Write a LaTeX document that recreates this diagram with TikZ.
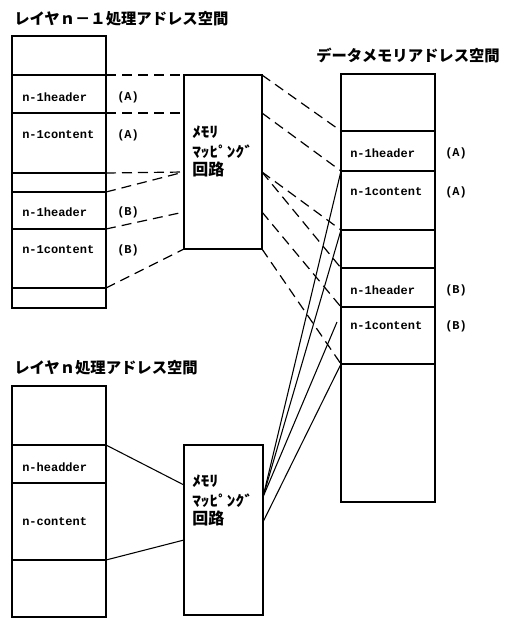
\documentclass[tikz,border=0pt]{standalone}
\usepackage{fontspec}
\newfontfamily\jp{Noto Sans CJK JP}
\newfontfamily\lab{Liberation Mono}
\newcommand{\hw}[1]{\scalebox{1.3}[1.1]{#1}}
\begin{document}
\begin{tikzpicture}[x=0.75pt,y=-0.75pt,
  cell/.style={draw,line width=1.1pt,minimum width=70.5pt,anchor=north west,inner sep=0pt,outer sep=0pt},
  circ/.style={draw,line width=1.1pt,anchor=north west,inner sep=0pt,outer sep=0pt},
  lbl/.style={anchor=west,inner sep=0pt,font=\lab\bfseries\fontsize{9}{10}\selectfont},
  ttl/.style={anchor=west,inner sep=0pt,font=\jp\bfseries\fontsize{11.5}{12}\selectfont},
  ctext/.style={anchor=north west,inner sep=0pt,align=left,font=\jp\bfseries\fontsize{10}{14.5}\selectfont},
  dsh/.style={line width=0.9pt,dash pattern=on 7.5pt off 4.5pt},
  sol/.style={line width=0.8pt}]
\useasboundingbox (0,0) rectangle (510,619);
% titles
\node[ttl] (t1) at (14,19) {レイヤｎ－１処理アドレス空間};
\node[ttl] (t2) at (316,55) {データメモリアドレス空間};
\node[ttl] (t3) at (14,368) {レイヤｎ処理アドレス空間};
% left stack (layer n-1)
\node[cell,minimum height=29.25pt] (L1) at (12,36) {};
\node[cell,minimum height=28.5pt] (L2) at (12,75) {};
\node[cell,minimum height=45pt] (L3) at (12,113) {};
\node[cell,minimum height=14.25pt] (L4) at (12,173) {};
\node[cell,minimum height=27.75pt] (L5) at (12,192) {};
\node[cell,minimum height=44.25pt] (L6) at (12,229) {};
\node[cell,minimum height=15pt] (L7) at (12,288) {};
\node[lbl] (l2t) at (22,97) {n-1header};
\node[lbl] (l2a) at (117,97) {(A)};
\node[lbl] (l3t) at (22,135) {n-1content};
\node[lbl] (l3a) at (117,135) {(A)};
\node[lbl] (l5t) at (22,212) {n-1header};
\node[lbl] (l5a) at (117,212) {(B)};
\node[lbl] (l6t) at (22,250) {n-1content};
\node[lbl] (l6a) at (117,250) {(B)};
% data memory stack
\node[cell,minimum height=42.75pt] (D1) at (341,74) {};
\node[cell,minimum height=30pt] (D2) at (341,131) {};
\node[cell,minimum height=44.25pt] (D3) at (341,171) {};
\node[cell,minimum height=28.5pt] (D4) at (341,230) {};
\node[cell,minimum height=29.25pt] (D5) at (341,268) {};
\node[cell,minimum height=42.75pt] (D6) at (341,307) {};
\node[cell,minimum height=103.5pt] (D7) at (341,364) {};
\node[lbl] (d2t) at (350,153) {n-1header};
\node[lbl] (d2a) at (445,153) {(A)};
\node[lbl] (d3t) at (350,192) {n-1content};
\node[lbl] (d3a) at (445,192) {(A)};
\node[lbl] (d5t) at (350,290) {n-1header};
\node[lbl] (d5a) at (445,290) {(B)};
\node[lbl] (d6t) at (350,326) {n-1content};
\node[lbl] (d6a) at (445,326) {(B)};
% bottom stack (layer n)
\node[cell,minimum height=44.25pt] (B1) at (12,386) {};
\node[cell,minimum height=28.5pt] (B2) at (12,445) {};
\node[cell,minimum height=57.75pt] (B3) at (12,483) {};
\node[cell,minimum height=42.75pt] (B4) at (12,560) {};
\node[lbl] (b2t) at (22,467) {n-headder};
\node[lbl] (b3t) at (22,522) {n-content};
% memory mapping circuits
\node[circ,minimum width=58.5pt,minimum height=130.5pt] (M1) at (184,75) {};
\node[ctext] (M1t) at (192,126) {\hw{ﾒﾓﾘ}\\\hw{ﾏｯﾋﾟﾝｸﾞ}\\[-1pt]{\fontsize{12}{12}\selectfont 回路}};
\node[circ,minimum width=59.25pt,minimum height=127.5pt] (M2) at (184,445) {};
\node[ctext] (M2t) at (192,475) {\hw{ﾒﾓﾘ}\\\hw{ﾏｯﾋﾟﾝｸﾞ}\\[-1pt]{\fontsize{12}{12}\selectfont 回路}};
% connection points on circuits
\coordinate (m1l2) at (184,113);
\coordinate (m1l3) at (184,172);
\coordinate (m1l4) at (184,212);
\coordinate (m1r2) at (262,113);
\coordinate (m1r3) at (262,172);
\coordinate (m1r4) at (262,212);
\coordinate (m2l1) at (184,485);
\coordinate (m2l2) at (184,540);
\coordinate (m2r1) at (263,497);
\coordinate (m2r2) at (263,522);
\coordinate (e3) at (337,322);
% dashed: layer n-1 -> circuit 1
\draw[dsh] (L2.north east) -- (M1.north west);
\draw[dsh] (L3.north east) -- (m1l2);
\draw[dsh] (L4.north east) -- (m1l3);
\draw[dsh] (L5.north east) -- (m1l3);
\draw[dsh] (L6.north east) -- (m1l4);
\draw[dsh] (L7.north east) -- (M1.south west);
% dashed: circuit 1 -> data memory
\draw[dsh] (M1.north east) -- (D2.north west);
\draw[dsh] (m1r2) -- (D3.north west);
\draw[dsh] (m1r3) -- (D4.north west);
\draw[dsh] (m1r3) -- (D5.north west);
\draw[dsh] (m1r4) -- (D6.north west);
\draw[dsh] (M1.south east) -- (D7.north west);
% solid: layer n -> circuit 2
\draw[sol] (B2.north east) -- (m2l1);
\draw[sol] (B4.north east) -- (m2l2);
% solid: circuit 2 -> data memory
\draw[sol] (m2r1) -- (D3.north west);
\draw[sol] (m2r1) -- (D4.north west);
\draw[sol] (m2r1) -- (e3);
\draw[sol] (m2r2) -- (D7.north west);
\end{tikzpicture}
\end{document}
